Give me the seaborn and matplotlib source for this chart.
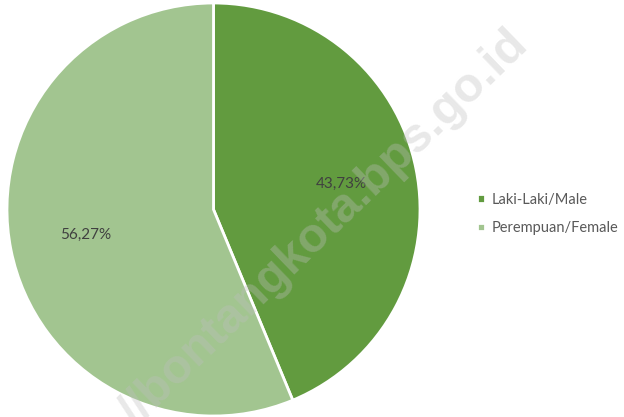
import matplotlib
matplotlib.use("Agg")
import matplotlib.pyplot as plt
import seaborn as sns

# Data
kategori = ["Laki-Laki/Male", "Perempuan/Female"]
persen = [43.73, 56.27]
warna = ["#629b3f", "#a2c590"]

sns.set_theme(style="white")
plt.rcParams["font.family"] = ["Lato", "DejaVu Sans"]

fig = plt.figure(figsize=(6.24, 4.17), dpi=100)
ax = fig.add_axes([7 / 624, 1 / 417, 413 / 624, 413 / 417])

wedges, texts, autotexts = ax.pie(
    persen,
    colors=warna,
    startangle=90,
    counterclock=False,
    autopct=lambda p: f"{p:.2f}%".replace(".", ","),
    pctdistance=0.63,
    wedgeprops=dict(edgecolor="white", linewidth=2),
    textprops=dict(color="#404040", fontsize=11),
)
ax.set_xlim(-1.0, 1.0)
ax.set_ylim(-1.0, 1.0)

fig.legend(
    wedges, kategori,
    loc="center left", bbox_to_anchor=(0.765, 0.487),
    frameon=False, fontsize=10.5, handlelength=0.55, handleheight=0.55,
    handletextpad=0.45, labelspacing=1.0, borderpad=0, borderaxespad=0,
    labelcolor="#595959",
)

# watermark
fig.text(0.52, 0.453, "//bontangkota.bps.go.id", fontsize=35, fontweight="bold",
         family="Liberation Sans", color="#bfbfbf", alpha=0.35,
         rotation=44, ha="center", va="center")

fig.savefig("out.png", dpi=100)
